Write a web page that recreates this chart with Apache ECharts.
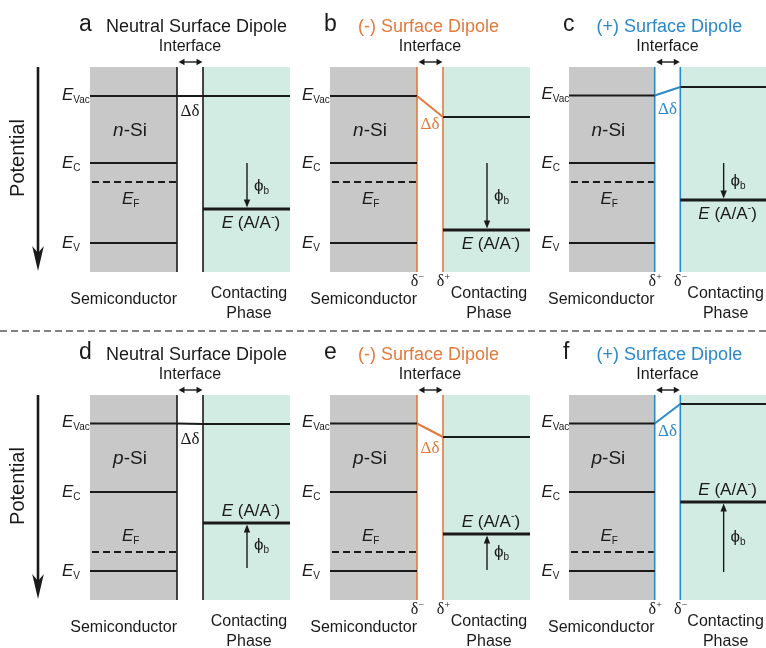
<!DOCTYPE html>
<html><head><meta charset="utf-8">
<script src="https://cdn.jsdelivr.net/npm/echarts@6/dist/echarts.min.js"></script>
<style>html,body{margin:0;padding:0;background:#fff}#chart{width:766px;height:648px}</style>
</head><body><div id="chart"></div>
<script>
// ---------------- data ----------------
const panelLetters = ['a', 'b', 'c', 'd', 'e', 'f'];
const panelTitles = ['Neutral Surface Dipole', '(-) Surface Dipole', '(+) Surface Dipole',
                     'Neutral Surface Dipole', '(-) Surface Dipole', '(+) Surface Dipole'];
const dipoleType = ['neutral', 'negative', 'positive', 'neutral', 'negative', 'positive'];
const dopingType = ['n', 'n', 'n', 'p', 'p', 'p'];
// energy levels (diagram potential units, increasing downward, 0 = top of diagram)
const evacSemi    = [29, 29, 28.5, 28.5, 28.5, 28.5];
const evacContact = [29, 50, 20, 29, 42, 9];
const condBand    = [96, 96, 96, 97, 97, 97];
const fermiLevel  = [115, 115, 115, 157, 157, 157];
const valBand     = [176, 176, 176, 176, 176, 176];
const redoxLevel  = [142, 163, 133, 128, 139, 107];
const phiStart    = [96, 96, 96, 173, 175, 177];

// ---------------- style / layout ----------------
const SANS = '"Liberation Sans", Arial, Helvetica, sans-serif';
const SERIF = '"Liberation Serif", "Times New Roman", serif';
const TEXT = '#1a1a1a';
const GRAY = '#c8c8c8';
const GREEN = '#d2ece3';
const ORANGE = '#e27a3e';
const BLUE = '#2a89c9';
const panelLeft = [90, 330, 569];
const rowTop = [67, 395];
const X_SEMI_END = 87, X_CONT = 113, X_END = 200, Y_BOT = 205, PHI_X = 157;

const mctx = document.createElement('canvas').getContext('2d');
function tw(t, font) { mctx.font = font; return mctx.measureText(t).width; }
function fs(size, style) { return (style ? style + ' ' : '') + size + 'px ' + SANS; }
function fserif(size) { return size + 'px ' + SERIF; }
function txt(t, x, y, font, color, align) {
  return { type: 'text', silent: true, style: { text: t, x: x, y: y, font: font, fill: color || TEXT,
    textAlign: align || 'left', textVerticalAlign: 'middle', align: align || 'left', verticalAlign: 'middle' } };
}
function rich(pieces, x, y, align, color) {
  let total = 0;
  const w = pieces.map(p => { const v = tw(p[0], p[1]); total += v; return v; });
  let cx = align === 'left' ? x : (align === 'right' ? x - total : x - total / 2);
  return pieces.map((p, i) => { const el = txt(p[0], cx, y + (p[2] || 0), p[1], color, 'left'); cx += w[i]; return el; });
}
function line(a, b, color, width, dash) {
  return { type: 'line', silent: true, shape: { x1: a[0], y1: a[1], x2: b[0], y2: b[1] },
    style: { stroke: color, lineWidth: width, lineDash: dash || null } };
}
function poly(points, color) { return { type: 'polygon', silent: true, shape: { points: points }, style: { fill: color } }; }

function renderPanel(i) {
  return function (params, api) {
    const P = (x, y) => api.coord([x, y]);
    const dip = dipoleType[i];
    const accent = dip === 'negative' ? ORANGE : (dip === 'positive' ? BLUE : TEXT);
    const c = [];
    // regions
    let a = P(0, 0), b = P(X_SEMI_END, Y_BOT);
    c.push({ type: 'rect', silent: true, shape: { x: a[0], y: a[1], width: b[0] - a[0], height: b[1] - a[1] }, style: { fill: GRAY } });
    a = P(X_CONT, 0); b = P(X_END, Y_BOT);
    c.push({ type: 'rect', silent: true, shape: { x: a[0], y: a[1], width: b[0] - a[0], height: b[1] - a[1] }, style: { fill: GREEN } });
    // interface boundaries
    c.push(line(P(X_SEMI_END, 0), P(X_SEMI_END, Y_BOT), accent, 1.6));
    c.push(line(P(X_CONT, 0), P(X_CONT, Y_BOT), accent, 1.6));
    // levels
    c.push(line(P(0, evacSemi[i]), P(X_SEMI_END, evacSemi[i]), TEXT, 2));
    c.push(line(P(X_CONT, evacContact[i]), P(X_END, evacContact[i]), TEXT, 2));
    c.push(line(P(X_SEMI_END, evacSemi[i]), P(X_CONT, evacContact[i]), accent, 2));
    c.push(line(P(0, condBand[i]), P(X_SEMI_END, condBand[i]), TEXT, 2));
    c.push(line(P(2, fermiLevel[i]), P(X_SEMI_END - 1, fermiLevel[i]), TEXT, 2, [7, 4]));
    c.push(line(P(0, valBand[i]), P(X_SEMI_END, valBand[i]), TEXT, 2));
    c.push(line(P(X_CONT, redoxLevel[i]), P(X_END, redoxLevel[i]), TEXT, 3.2));
    // phi_b arrow
    const dir = redoxLevel[i] > phiStart[i] ? 1 : -1;
    const tip = P(PHI_X, redoxLevel[i] - dir * 1.5);
    const st = P(PHI_X, phiStart[i]);
    c.push(line(st, [tip[0], tip[1] - dir * 6], TEXT, 1.4));
    c.push(poly([[tip[0], tip[1]], [tip[0] - 3.2, tip[1] - dir * 8], [tip[0] + 3.2, tip[1] - dir * 8]], TEXT));
    const midPhi = (phiStart[i] + redoxLevel[i]) / 2;
    let q = P(164, midPhi);
    c.push(...rich([['\u03d5', fs(17)], ['b', fs(10), 5]], q[0], q[1], 'left'));
    // interface double arrow
    const l = P(X_SEMI_END + 1.5, -5), r = P(X_CONT - 0.5, -5);
    c.push(line([l[0] + 4, l[1]], [r[0] - 4, r[1]], TEXT, 1.4));
    c.push(poly([[l[0], l[1]], [l[0] + 6, l[1] - 3.2], [l[0] + 6, l[1] + 3.2]], TEXT));
    c.push(poly([[r[0], r[1]], [r[0] - 6, r[1] - 3.2], [r[0] - 6, r[1] + 3.2]], TEXT));
    q = P((X_SEMI_END + X_CONT) / 2, -20);
    c.push(txt('Interface', q[0], q[1], fs(16), TEXT, 'center'));
    // title
    const neutral = dip === 'neutral';
    q = P(neutral ? -11 : -6, -42);
    c.push(txt(panelLetters[i], q[0], q[1], fs(23), TEXT, 'left'));
    q = P(neutral ? 16 : 28, -40);
    c.push(txt(panelTitles[i], q[0], q[1], fs(18), accent, 'left'));
    // level labels
    q = P(-28, evacSemi[i] - 1);
    c.push(...rich([['E', fs(17, 'italic')], ['Vac', fs(10), 5]], q[0], q[1], 'left'));
    q = P(-28, condBand[i]);
    c.push(...rich([['E', fs(17, 'italic')], ['C', fs(10), 5]], q[0], q[1], 'left'));
    q = P(-28, valBand[i]);
    c.push(...rich([['E', fs(17, 'italic')], ['V', fs(10), 5]], q[0], q[1], 'left'));
    const nType = dopingType[i] === 'n';
    q = P(32, fermiLevel[i] + (nType ? 17 : -16));
    c.push(...rich([['E', fs(17, 'italic')], ['F', fs(10), 5]], q[0], q[1], 'left'));
    q = P(40, 64);
    c.push(...rich([[dopingType[i], fs(19, 'italic')], ['-Si', fs(19)]], q[0], q[1], 'center'));
    q = P(161, redoxLevel[i] + (nType ? 14 : -12));
    c.push(...rich([['E', fs(17, 'italic')], [' (A/A', fs(17)], ['-', fs(11), -6], [')', fs(17)]], q[0], q[1], 'center'));
    // delta-delta
    const dd = neutral ? evacSemi[i] + 16 : (evacSemi[i] + evacContact[i]) / 2 + 18;
    q = P(100, dd);
    c.push(txt('\u0394\u03b4', q[0], q[1], fserif(17), accent, 'center'));
    // dipole charges
    if (!neutral) {
      const leftSign = dip === 'negative' ? '\u2212' : '+';
      const rightSign = dip === 'negative' ? '+' : '\u2212';
      [[X_SEMI_END, leftSign], [X_CONT, rightSign]].forEach(([xx, s]) => {
        const p = P(xx - 2.5, 215);
        c.push(txt('\u03b4', p[0], p[1], fserif(16), TEXT, 'center'));
        c.push(txt(s, p[0] + 4, p[1] - 5, fserif(10), TEXT, 'left'));
      });
    }
    // region captions
    q = P(X_SEMI_END, 233);
    c.push(txt('Semiconductor', q[0], q[1], fs(16), TEXT, 'right'));
    q = P(159, 227);
    c.push(txt('Contacting', q[0], q[1], fs(16), TEXT, 'center'));
    q = P(159, 246.5);
    c.push(txt('Phase', q[0], q[1], fs(16), TEXT, 'center'));
    // potential axis arrow (leftmost panels)
    if (i % 3 === 0) {
      const t = P(-52, 0), h = P(-52, 204);
      c.push(line(t, [h[0], h[1] - 17], TEXT, 2.6));
      c.push(poly([[h[0], h[1]], [h[0] - 5.8, h[1] - 25], [h[0], h[1] - 18], [h[0] + 5.8, h[1] - 25]], TEXT));
      const pl = P(-72, 91);
      c.push({ type: 'text', silent: true, x: pl[0], y: pl[1], rotation: Math.PI / 2,
        style: { text: 'Potential', x: 0, y: 0, font: fs(20), fill: TEXT, textAlign: 'center', textVerticalAlign: 'middle', align: 'center', verticalAlign: 'middle' } });
    }
    return { type: 'group', children: c };
  };
}

const grids = [], xAxes = [], yAxes = [], series = [];
for (let i = 0; i < 6; i++) {
  grids.push({ left: panelLeft[i % 3], top: rowTop[Math.floor(i / 3)], width: X_END, height: Y_BOT });
  xAxes.push({ gridIndex: i, type: 'value', min: 0, max: X_END, show: false });
  yAxes.push({ gridIndex: i, type: 'value', min: 0, max: Y_BOT, inverse: true, show: false });
  series.push({ type: 'custom', coordinateSystem: 'cartesian2d', xAxisIndex: i, yAxisIndex: i,
    clip: false, silent: true, data: [[0, 0]], renderItem: renderPanel(i) });
}

const chart = echarts.init(document.getElementById('chart'), null, { renderer: 'canvas' });
chart.setOption({
  backgroundColor: '#ffffff',
  animation: false,
  grid: grids, xAxis: xAxes, yAxis: yAxes, series: series,
  graphic: [{ type: 'line', silent: true, shape: { x1: 0, y1: 331, x2: 766, y2: 331 },
    style: { stroke: '#5a5a5a', lineWidth: 1.5, lineDash: [7, 4] } }]
});
</script></body></html>
